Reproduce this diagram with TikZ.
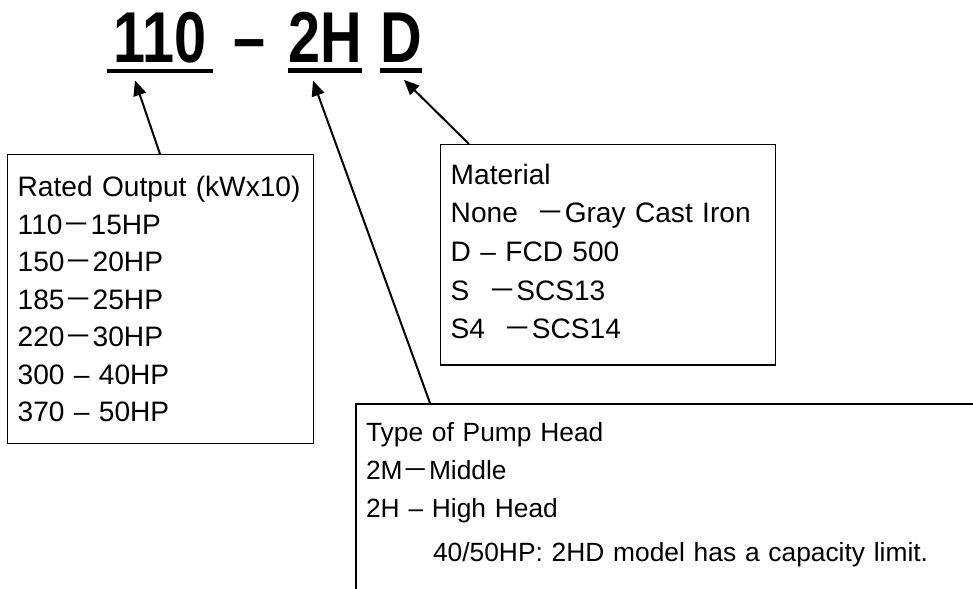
\documentclass[tikz,border=0pt]{standalone}
\usepackage{fontspec}
\setmainfont{Liberation Sans}
\newfontfamily\cjk{Noto Sans CJK JP}
\newfontfamily\titlefont[FakeStretch=0.8]{Liberation Sans}
\usetikzlibrary{arrows.meta}
\newcommand{\fw}{{\cjk －}}

\tikzset{
  box/.style={draw, thick, anchor=north west, align=left, inner xsep=0.2cm},
  spec/.style={font=\fontsize{16}{21.3}\selectfont},
  code/.style={font=\titlefont\bfseries\fontsize{41}{45}\selectfont, anchor=base, inner xsep=0pt, inner ysep=0.14cm},
  uline/.style={line width=0.09cm},
  pointer/.style={line width=0.04cm, -{Triangle[length=0.3cm,width=0.26cm]}}
}

\begin{document}
\begin{tikzpicture}[x=0.02cm, y=-0.02cm]
\useasboundingbox (0,0) rectangle (973,588);
\clip (0,0) rectangle (973,588);
% model code
\node[code, minimum width=2.12cm] (t110) at (160,63) {110};
\node[code] (tdash) at (250,63) {–};
\node[code, minimum width=1.48cm] (t2H) at (325,63) {2H};
\node[code, minimum width=0.76cm] (tD) at (401,63) {D};
\draw[uline] (t110.south west) -- (t110.south east);
\draw[uline] (t2H.south west) -- (t2H.south east);
\draw[uline] (tD.south west) -- (tD.south east);
% explanation boxes
\node[box, spec, text width=5.72cm, minimum height=5.78cm] (rated) at (7,154)
  {Rated Output (kWx10)\\110\fw15HP\\150\fw20HP\\185\fw25HP\\220\fw30HP\\300 – 40HP\\370 – 50HP};
\node[box, spec, font=\fontsize{16}{22}\selectfont, text width=6.3cm, inner ysep=0.38cm, text depth=3.24cm] (material) at (440,144)
  {Material\\None\ \ \fw Gray Cast Iron\\D – FCD 500\\S\ \ \fw SCS13\\S4\ \ \fw SCS14};
\node[box, spec, font=\fontsize{15}{21.6}\selectfont, very thick, text width=15cm, inner ysep=0.36cm, text depth=3cm] (pump) at (355,403)
  {Type of Pump Head\\2M\fw Middle\\2H – High Head\\[0.12cm]\hspace*{1.34cm}40/50HP: 2HD model has a capacity limit.};
% pointers
\draw[pointer] ([xshift=3.06cm]rated.north west) -- ([xshift=-0.5cm,yshift=-0.19cm]t110.south);
\draw[pointer] ([xshift=1.5cm]pump.north west) -- ([xshift=-0.24cm,yshift=-0.21cm]t2H.south);
\draw[pointer] ([xshift=0.58cm]material.north west) -- ([xshift=0.06cm,yshift=-0.19cm]tD.south);
\end{tikzpicture}
\end{document}
